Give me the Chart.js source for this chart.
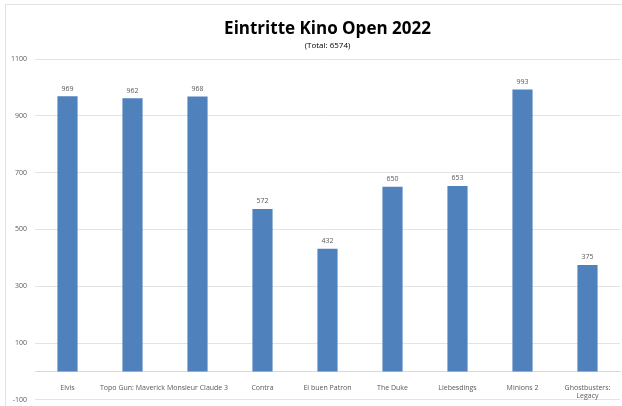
<!DOCTYPE html>
<html lang="de">
<head>
<meta charset="UTF-8">
<title>Eintritte Kino Open 2022</title>
<script src="https://cdn.jsdelivr.net/npm/chart.js"></script>
<style>
  body { margin: 0; background: #fff; overflow: hidden; }
  #wrap { width: 622px; height: 412px; position: relative; }
</style>
</head>
<body>
<div id="wrap"><canvas id="myChart"></canvas></div>
<script>
  // data
  const films = ['Elvis', 'Topo Gun: Maverick', 'Monsieur Claude 3', 'Contra', 'El buen Patron',
    'The Duke', 'Liebesdings', 'Minions 2', ['Ghostbusters:', 'Legacy']];
  const entries = [969, 962, 968, 572, 432, 650, 653, 993, 375];
  const total = entries.reduce((a, b) => a + b, 0);

  const font = "'Open Sans', 'Liberation Sans', sans-serif";

  // values above the bars
  const valueLabels = {
    id: 'valueLabels',
    afterDatasetsDraw(chart) {
      const ctx = chart.ctx;
      const meta = chart.getDatasetMeta(0);
      ctx.save();
      ctx.font = '7px ' + font;
      ctx.fillStyle = '#595959';
      ctx.textAlign = 'center';
      ctx.textBaseline = 'bottom';
      meta.data.forEach((bar, i) => {
        ctx.fillText(entries[i], bar.x, bar.y - 4);
      });
      ctx.restore();
    }
  };

  // thin frame around the chart like the original
  const frame = {
    id: 'frame',
    beforeDraw(chart) {
      const ctx = chart.ctx;
      ctx.save();
      ctx.strokeStyle = '#e3e3e3';
      ctx.lineWidth = 1;
      ctx.strokeRect(5.5, 4.5, chart.width + 10, chart.height + 10);
      ctx.restore();
    }
  };

  new Chart(document.getElementById('myChart'), {
    type: 'bar',
    data: {
      labels: films,
      datasets: [{
        data: entries,
        backgroundColor: '#4f81bd',
        barPercentage: 0.62,
        categoryPercentage: 0.5
      }]
    },
    options: {
      responsive: true,
      maintainAspectRatio: false,
      animation: false,
      layout: { padding: { left: 0, right: 2, top: 13, bottom: 7 } },
      plugins: {
        legend: { display: false },
        tooltip: { enabled: false },
        title: {
          display: true,
          text: 'Eintritte Kino Open 2022',
          fullSize: false,
          color: '#000',
          font: { family: font, size: 17, weight: 'bold' },
          padding: { top: 6, bottom: 2 }
        },
        subtitle: {
          display: true,
          text: '(Total: ' + total + ')',
          fullSize: false,
          color: '#000',
          font: { family: font, size: 8 },
          padding: { top: 0, bottom: 8 }
        }
      },
      scales: {
        x: {
          position: { y: 0 },
          afterFit(scale) { scale.height = 0; },
          grid: { display: false },
          border: { display: true, color: '#d9d9d9' },
          ticks: {
            color: '#595959',
            font: { family: font, size: 7 },
            maxRotation: 0,
            autoSkip: false,
            padding: 4
          }
        },
        y: {
          min: -100,
          max: 1100,
          afterFit(scale) { scale.width = 35; },
          ticks: {
            stepSize: 200,
            color: '#595959',
            font: { family: font, size: 7 },
            padding: 8,
            callback: (v) => String(v)
          },
          grid: { color: '#e3e3e3', drawTicks: false },
          border: { display: false }
        }
      }
    },
    plugins: [frame, valueLabels]
  });
</script>
</body>
</html>
